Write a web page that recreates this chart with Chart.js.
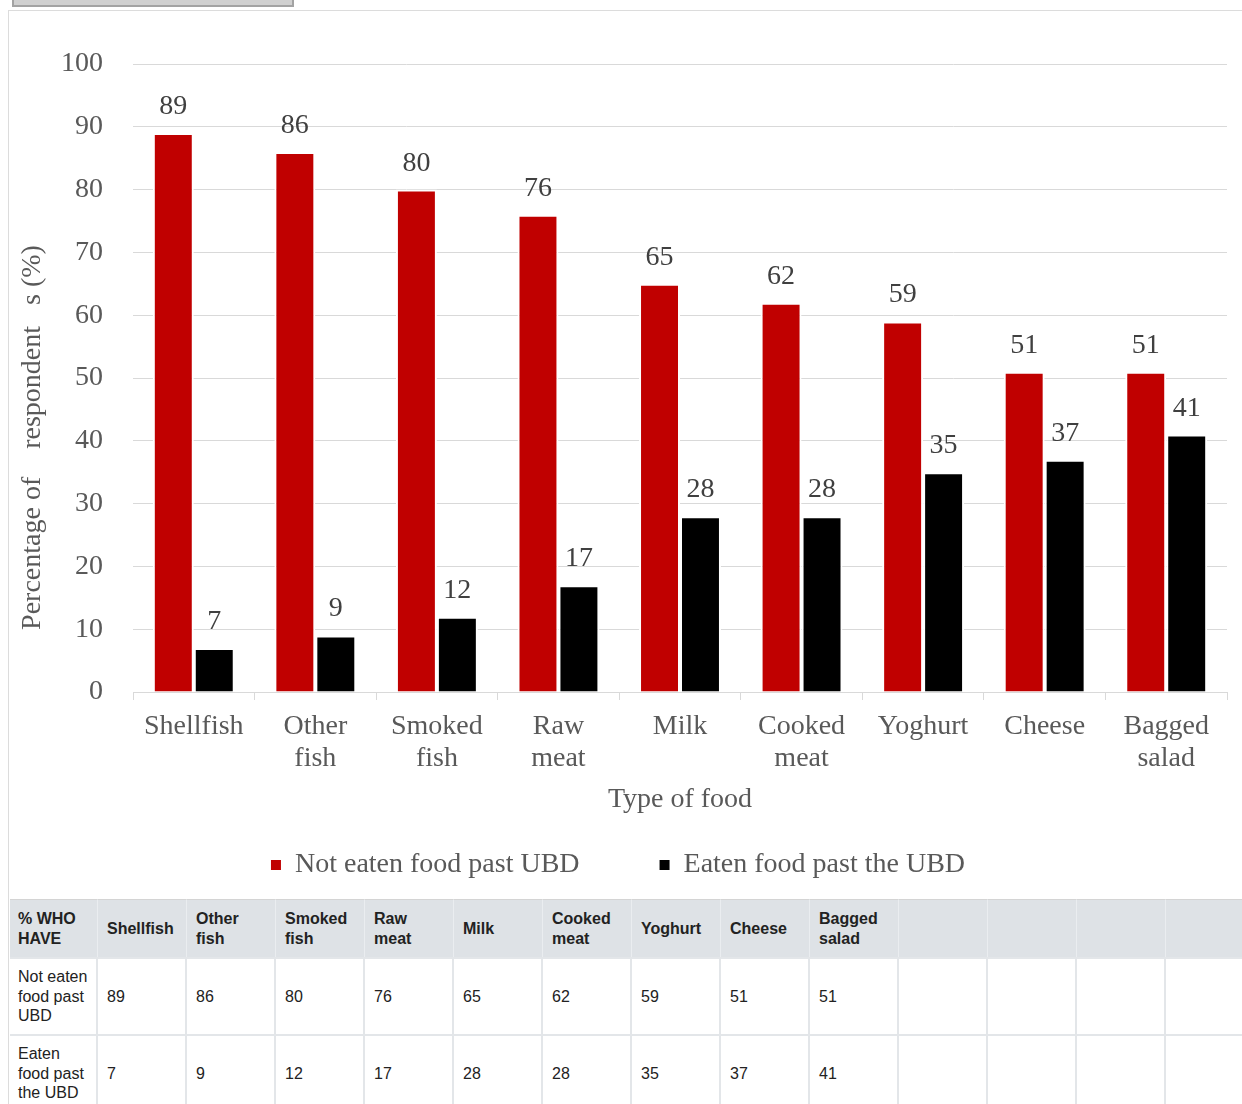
<!DOCTYPE html>
<html>
<head>
<meta charset="utf-8">
<title>Type of food</title>
<script src="https://cdn.jsdelivr.net/npm/chart.js@4"></script>
<style>
  body { margin: 0; background: #fff; overflow: hidden; width: 1242px; height: 1104px; position: relative; }
  #tab-stub { position: absolute; left: 12px; top: -30px; width: 278px; height: 33px; background: #d0d0d0; border: 2px solid #a3a3a3; }
  #panel { position: absolute; left: 8px; top: 10px; width: 1300px; height: 1200px; border: 1px solid #dcdcdc; }
  #chart-box { position: absolute; left: 0; top: 2px; width: 1233px; height: 886px; }
  #data-table { position: absolute; left: 1px; top: 888px; border-collapse: separate; border-spacing: 0; table-layout: fixed; width: 1245px;
    font-family: "Liberation Sans", Arial, sans-serif; font-size: 16px; line-height: 19.5px; color: #222; }
  #data-table th { background: #dee2e6; height: 57px; padding: 0 8px 0 9px; text-align: left; font-weight: bold; white-space: nowrap;
    border-top: 1px solid #d4d4d4; border-right: 1px solid #eaedf0; vertical-align: middle; }
  #data-table td { height: 59px; padding: 8px 8px 8px 9px; border-top: 2px solid #e3e6e9; border-right: 2px solid #e3e6e9; vertical-align: middle; white-space: nowrap; }
  #data-table th:first-child, #data-table td:first-child { padding-left: 8px; }
</style>
</head>
<body>
<div id="tab-stub"></div>
<div id="panel">
  <div id="chart-box"><canvas id="foodChart"></canvas></div>
  <table id="data-table">
    <colgroup id="cols"></colgroup>
    <thead><tr id="head-row"></tr></thead>
    <tbody></tbody>
  </table>
</div>
<script>
// chart data
const categories = [
    ['Shellfish'], ['Other', 'fish'], ['Smoked', 'fish'], ['Raw', 'meat'], ['Milk'],
    ['Cooked', 'meat'], ['Yoghurt'], ['Cheese'], ['Bagged', 'salad']
];
const notEaten = [89, 86, 80, 76, 65, 62, 59, 51, 51];
const eaten = [7, 9, 12, 17, 28, 28, 35, 37, 41];
const seriesNames = ['Not eaten food past UBD', 'Eaten food past the UBD'];
const rowNames = [['Not eaten', 'food past', 'UBD'], ['Eaten', 'food past', 'the UBD']];
const yTicks = [0, 10, 20, 30, 40, 50, 60, 70, 80, 90, 100];

const serif = '"Liberation Serif", "Times New Roman", serif';
Chart.defaults.font.family = serif;
Chart.defaults.font.size = 28;

// value labels above each bar
const barLabels = {
    id: 'barLabels',
    afterDatasetsDraw(chart) {
        const ctx = chart.ctx;
        ctx.save();
        ctx.font = '28px ' + serif;
        ctx.fillStyle = '#404040';
        ctx.textAlign = 'center';
        ctx.textBaseline = 'alphabetic';
        chart.data.datasets.forEach((ds, i) => {
            chart.getDatasetMeta(i).data.forEach((bar, j) => {
                ctx.fillText(String(ds.data[j]), bar.x, bar.y - 19);
            });
        });
        ctx.restore();
    }
};

const ctx = document.getElementById('foodChart').getContext('2d');
const foodChart = new Chart(ctx, {
    type: 'bar',
    data: {
        labels: categories,
        datasets: [
            {
                label: seriesNames[0],
                data: notEaten,
                backgroundColor: '#c00000',
                borderColor: '#ffffff',
                borderWidth: 2
            },
            {
                label: seriesNames[1],
                data: eaten,
                backgroundColor: '#000000',
                borderColor: '#ffffff',
                borderWidth: 2
            }
        ]
    },
    options: {
        responsive: true,
        maintainAspectRatio: false,
        animation: false,
        layout: { padding: { top: 51, right: 15, bottom: 10, left: 0 } },
        datasets: { bar: { categoryPercentage: 0.674, barPercentage: 1 } },
        plugins: {
            tooltip: { enabled: false },
            legend: {
                position: 'bottom',
                labels: {
                    color: '#595959',
                    boxWidth: 10,
                    boxHeight: 10,
                    padding: 10,
                    font: { size: 28 },
                    // extra spaces after the first item to space the two entries apart
                    generateLabels: function (chart) {
                        return chart.data.datasets.map((ds, i) => ({
                            text: ds.label + (i === 0 ? '          ' : ''),
                            fillStyle: ds.backgroundColor,
                            strokeStyle: ds.backgroundColor,
                            lineWidth: 0,
                            hidden: false,
                            datasetIndex: i,
                            fontColor: '#595959'
                        }));
                    }
                }
            }
        },
        scales: {
            x: {
                afterFit: function (scale) { scale.height = 149; },
                grid: {
                    offset: true,
                    drawOnChartArea: false,
                    drawTicks: true,
                    tickLength: 8,
                    color: '#d9d9d9'
                },
                border: { color: '#d9d9d9', width: 1 },
                ticks: {
                    color: '#595959',
                    padding: 11,
                    maxRotation: 0,
                    autoSkip: false,
                    font: { size: 28, lineHeight: 32 / 28 }
                },
                title: {
                    display: true,
                    text: 'Type of food',
                    color: '#595959',
                    font: { size: 28, lineHeight: 1.2 },
                    padding: { top: 0, bottom: 25 }
                }
            },
            y: {
                min: 0,
                max: 100,
                afterFit: function (scale) { scale.width = 124; },
                afterBuildTicks: function (scale) { scale.ticks = yTicks.map(v => ({ value: v })); },
                grid: { color: '#d9d9d9', drawTicks: false },
                border: { display: false },
                ticks: { color: '#595959', padding: 30, font: { size: 28 } },
                title: {
                    display: true,
                    // trailing spaces push the visible text down like the original
                    text: 'Percentage of    respondent   s (%)' + '                 ',
                    color: '#595959',
                    font: { size: 28, lineHeight: 1.2 },
                    padding: { top: 7, bottom: 0 }
                }
            }
        }
    },
    plugins: [barLabels]
});

// data table under the chart
const colgroup = document.getElementById('cols');
const headRow = document.getElementById('head-row');
const tableBody = document.querySelector('#data-table tbody');
const totalCols = 14;
for (let c = 0; c < totalCols; c++) {
    const col = document.createElement('col');
    col.style.width = (c === 0 ? 88 : 89) + 'px';
    colgroup.appendChild(col);
}
const headCells = [['% WHO', 'HAVE']].concat(categories);
for (let c = 0; c < totalCols; c++) {
    const th = document.createElement('th');
    th.innerHTML = headCells[c] ? headCells[c].join('<br>') : '';
    headRow.appendChild(th);
}
[notEaten, eaten].forEach((values, r) => {
    const row = document.createElement('tr');
    for (let c = 0; c < totalCols; c++) {
        const td = document.createElement('td');
        if (c === 0) td.innerHTML = rowNames[r].join('<br>');
        else if (c <= values.length) td.textContent = values[c - 1];
        row.appendChild(td);
    }
    tableBody.appendChild(row);
});
</script>
</body>
</html>
